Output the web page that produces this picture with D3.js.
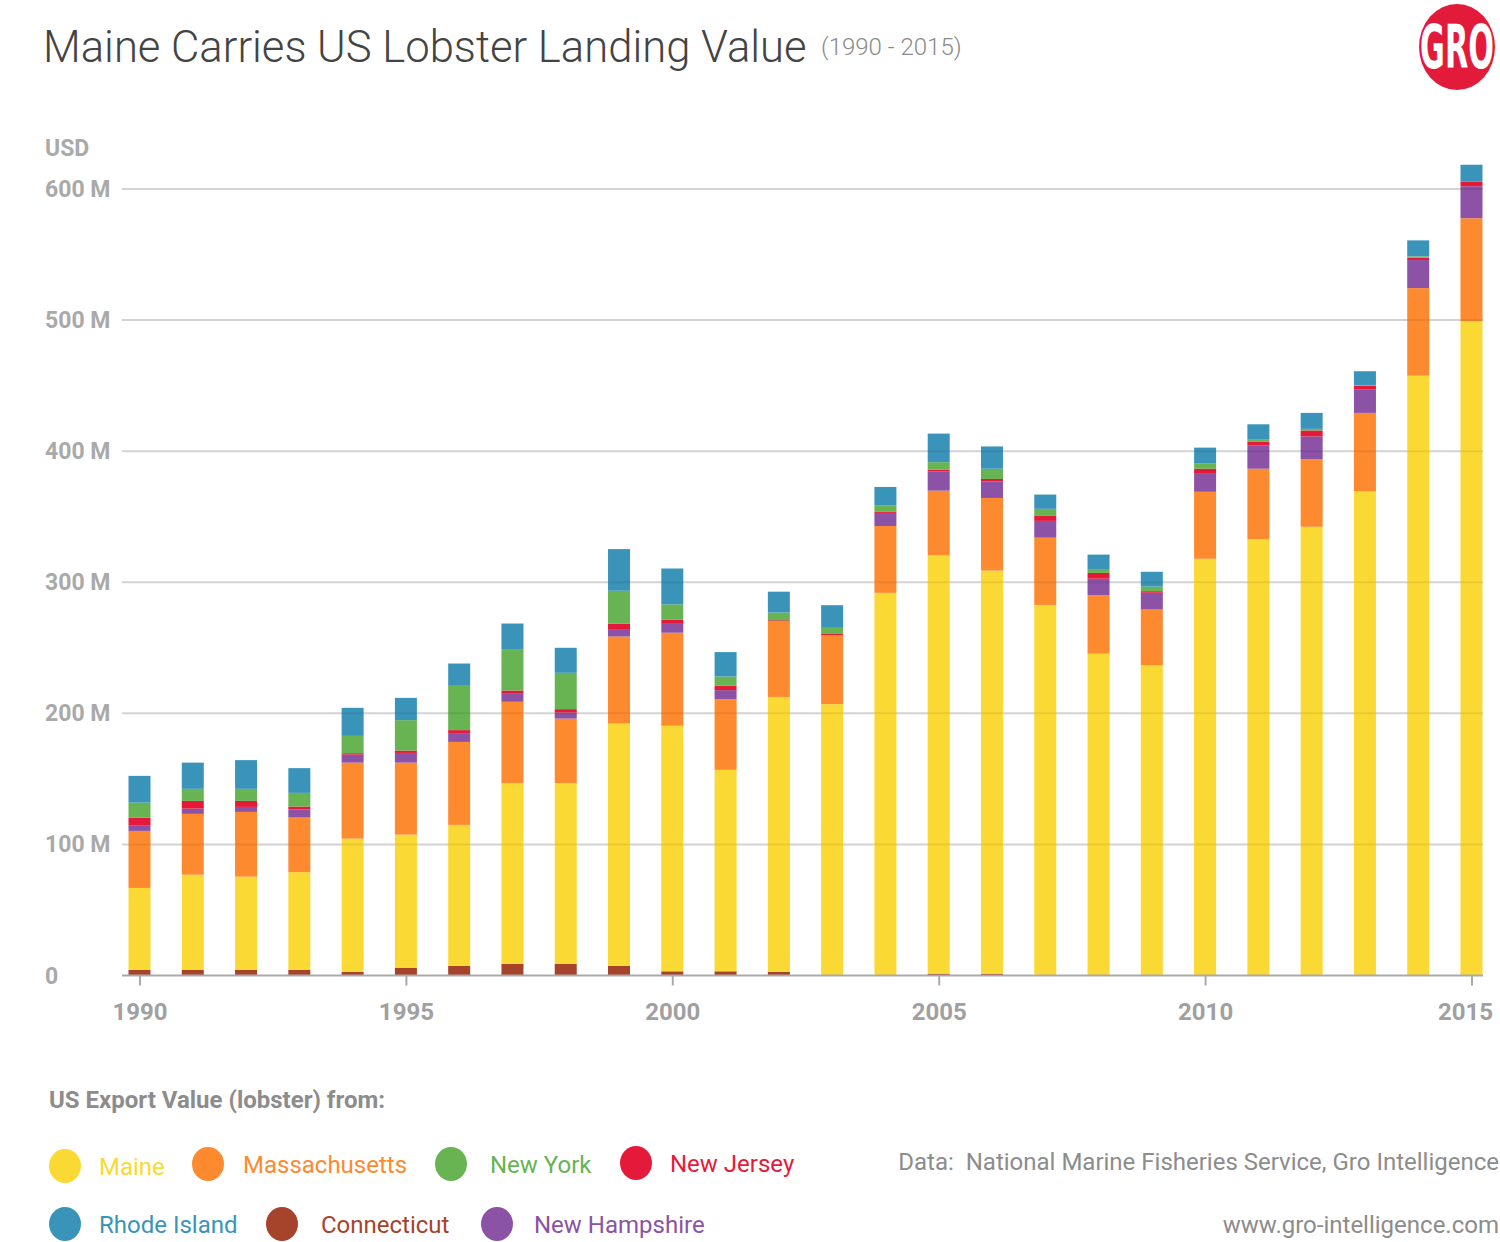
<!DOCTYPE html>
<html>
<head>
<meta charset="utf-8">
<script src="https://cdn.jsdelivr.net/npm/d3@7"></script>
<style>
  html, body { margin: 0; padding: 0; background: #fff; }
  svg { display: block; font-family: Roboto, "Noto Sans", sans-serif; }
</style>
</head>
<body>
<svg id="chart" width="1500" height="1242"></svg>
<script>
// ---- Data (millions USD) ----
const years = [1990,1991,1992,1993,1994,1995,1996,1997,1998,1999,2000,2001,2002,2003,2004,2005,2006,2007,2008,2009,2010,2011,2012,2013,2014,2015];
const seriesNames = ["Connecticut","Maine","Massachusetts","New Hampshire","New Jersey","New York","Rhode Island"];
const connecticut   = [4.2,4.2,4.2,4.2,2.7,6.0,7.3,8.8,8.8,7.3,3.2,3.2,2.8,0.3,0,1.4,1.4,0,0,0,0,0,0,0,0,0];
const maine         = [62.6,72.7,71.2,74.6,101.7,101.5,107.6,137.9,137.9,184.9,187.3,153.7,209.7,206.7,291.9,319.2,307.5,282.7,245.5,236.6,317.9,333.0,342.3,369.3,457.6,499.1];
const massachusetts = [43.5,46.4,49.4,41.7,58.0,54.9,63.3,62.1,49.3,66.4,71.0,53.9,57.7,52.6,51.0,49.3,55.4,51.3,44.7,42.6,51.1,53.6,51.5,59.9,66.8,78.6];
const newHampshire  = [4.4,4.0,3.8,6.1,6.1,7.4,6.2,6.1,4.6,5.1,7.4,6.9,0,0,10.0,14.5,12.6,12.8,12.5,12.8,14.3,17.6,17.5,17.7,21.4,24.4];
const newJersey     = [5.8,5.9,4.6,2.3,1.1,1.8,2.8,2.5,2.6,4.6,2.5,3.3,0.8,1.4,1.1,1.4,1.9,4.2,4.4,1.2,3.3,2.9,4.5,3.1,1.8,3.4];
const newYork       = [11.4,9.2,9.2,10.4,13.2,23.2,33.8,31.1,27.7,25.2,11.7,7.1,5.9,4.2,4.8,5.8,7.8,5.0,2.4,3.5,3.9,2.1,1.2,0.5,1.0,0];
const rhodeIsland   = [20.4,20.0,21.9,18.9,21.4,17.0,17.0,20.0,19.1,31.8,27.4,18.6,15.9,17.3,13.9,21.8,17.0,10.9,11.6,11.3,12.2,11.3,12.2,10.5,12.2,13.0];
const yTicks = [0,100,200,300,400,500,600];
const yTickLabels = ["0","100 M","200 M","300 M","400 M","500 M","600 M"];
const xTicks = [1990,1995,2000,2005,2010,2015];
const legendOrder = ["Maine","Massachusetts","New York","New Jersey","Rhode Island","Connecticut","New Hampshire"];

const colors = {
  "Maine": "#FBD934",
  "Massachusetts": "#FE8A2F",
  "New York": "#68B352",
  "New Jersey": "#E51A3A",
  "Rhode Island": "#3A94BA",
  "Connecticut": "#A6432B",
  "New Hampshire": "#8B52A6"
};

const valuesBy = {
  "Connecticut": connecticut, "Maine": maine, "Massachusetts": massachusetts,
  "New Hampshire": newHampshire, "New Jersey": newJersey, "New York": newYork,
  "Rhode Island": rhodeIsland
};
const table = years.map((y, i) => {
  const row = { year: y };
  seriesNames.forEach(s => row[s] = valuesBy[s][i]);
  return row;
});

const svg = d3.select("#chart");

// ---- Scales ----
const x = d3.scaleLinear().domain([1990, 2015]).range([139.5, 1471.5]);
const y = d3.scaleLinear().domain([0, 600]).range([975.5, 189]);
const barW = 22;
const plotLeft = 122, plotRight = 1483;

// ---- Title ----
svg.append("text").attr("x", 43).attr("y", 62)
  .attr("font-size", 43.6).attr("font-weight", 300).attr("fill", "#444")
  .text("Maine Carries US Lobster Landing Value");
svg.append("text").attr("x", 821).attr("y", 55)
  .attr("font-size", 24).attr("font-weight", 300).attr("fill", "#8a8a8a")
  .text("(1990 - 2015)");

// ---- Logo ----
const logo = svg.append("g").attr("transform", "translate(1457,47)");
logo.append("ellipse").attr("rx", 38).attr("ry", 43).attr("fill", "#E31B3B");
logo.append("text").attr("x", 0).attr("y", 17).attr("text-anchor", "middle")
  .attr("font-size", 48).attr("font-weight", 700).attr("fill", "#fff")
  .attr("font-family", "'Liberation Sans Narrow', 'DejaVu Sans Condensed', sans-serif")
  .attr("transform", "scale(0.7,1.25)")
  .text("GRO");

// ---- Gridlines (behind) ----
svg.append("g").selectAll("line").data(yTicks.filter(d => d > 0)).join("line")
  .attr("x1", plotLeft).attr("x2", plotRight)
  .attr("y1", d => y(d)).attr("y2", d => y(d))
  .attr("stroke", "#e3e3e3").attr("stroke-width", 2);

// ---- Stacked bars ----
const stack = d3.stack().keys(seriesNames);
const layers = stack(table);
svg.append("g").selectAll("g").data(layers).join("g")
  .attr("fill", d => colors[d.key])
  .selectAll("rect").data(d => d).join("rect")
  .attr("x", d => x(d.data.year) - barW / 2)
  .attr("width", barW)
  .attr("y", d => y(d[1]))
  .attr("height", d => Math.max(0, y(d[0]) - y(d[1])));

// gridlines showing faintly through bars
svg.append("g").selectAll("line").data(yTicks.filter(d => d > 0)).join("line")
  .attr("x1", plotLeft).attr("x2", plotRight)
  .attr("y1", d => y(d)).attr("y2", d => y(d))
  .attr("stroke", "rgba(0,0,0,0.07)").attr("stroke-width", 2);

// ---- Y labels ----
svg.append("text").attr("x", 45).attr("y", 156)
  .attr("font-size", 23).attr("font-weight", 700).attr("fill", "#a9a9a9").text("USD");
svg.append("g").selectAll("text").data(yTicks).join("text")
  .attr("x", 45).attr("y", d => y(d) + 8)
  .attr("font-size", 23).attr("font-weight", 700).attr("fill", "#a9a9a9")
  .text((d, i) => yTickLabels[i]);

// ---- X axis ----
const xAxis = d3.axisBottom(x).tickValues(xTicks).tickFormat(d3.format("d")).tickSize(10).tickSizeOuter(0);
const gx = svg.append("g").attr("transform", `translate(0,${y(0)})`).call(xAxis);
gx.select(".domain").remove();
gx.insert("line", ":first-child").attr("x1", plotLeft).attr("x2", plotRight)
  .attr("y1", 0).attr("y2", 0).attr("stroke", "#aaa").attr("stroke-width", 2);
gx.selectAll(".tick line").attr("stroke", "#aaa").attr("stroke-width", 2);
gx.selectAll(".tick text").attr("font-size", 24).attr("font-weight", 700)
  .attr("fill", "#a0a0a0").attr("font-family", "Roboto, sans-serif").attr("dy", 0).attr("y", 44);
gx.selectAll(".tick").filter(d => d === 2015).select("text").attr("text-anchor", "end").attr("x", 21);

// ---- Legend ----
svg.append("text").attr("x", 49).attr("y", 1108)
  .attr("font-size", 24).attr("font-weight", 700).attr("fill", "#8c8c8c")
  .text("US Export Value (lobster) from:");

const legendPos = {
  "Maine": [65, 1166, 99],
  "Massachusetts": [208, 1164, 243],
  "New York": [451, 1164, 490],
  "New Jersey": [636, 1163, 670],
  "Rhode Island": [65, 1224, 99],
  "Connecticut": [282, 1224, 321],
  "New Hampshire": [497, 1224, 534]
};
const lg = svg.append("g");
legendOrder.forEach(name => {
  const [cx, cy, tx] = legendPos[name];
  lg.append("ellipse").attr("cx", cx).attr("cy", cy).attr("rx", 16).attr("ry", 17)
    .attr("fill", colors[name]);
  lg.append("text").attr("x", tx).attr("y", cy + 9)
    .attr("font-size", 24).attr("font-weight", 400).attr("fill", colors[name])
    .text(name);
});

// ---- Source ----
svg.append("text").attr("x", 1499).attr("y", 1170).attr("text-anchor", "end")
  .attr("font-size", 24).attr("fill", "#8c8c8c")
  .style("white-space", "pre")
  .text("Data:  National Marine Fisheries Service, Gro Intelligence");
svg.append("text").attr("x", 1499).attr("y", 1233).attr("text-anchor", "end")
  .attr("font-size", 24).attr("fill", "#8c8c8c")
  .text("www.gro-intelligence.com");
</script>
</body>
</html>
